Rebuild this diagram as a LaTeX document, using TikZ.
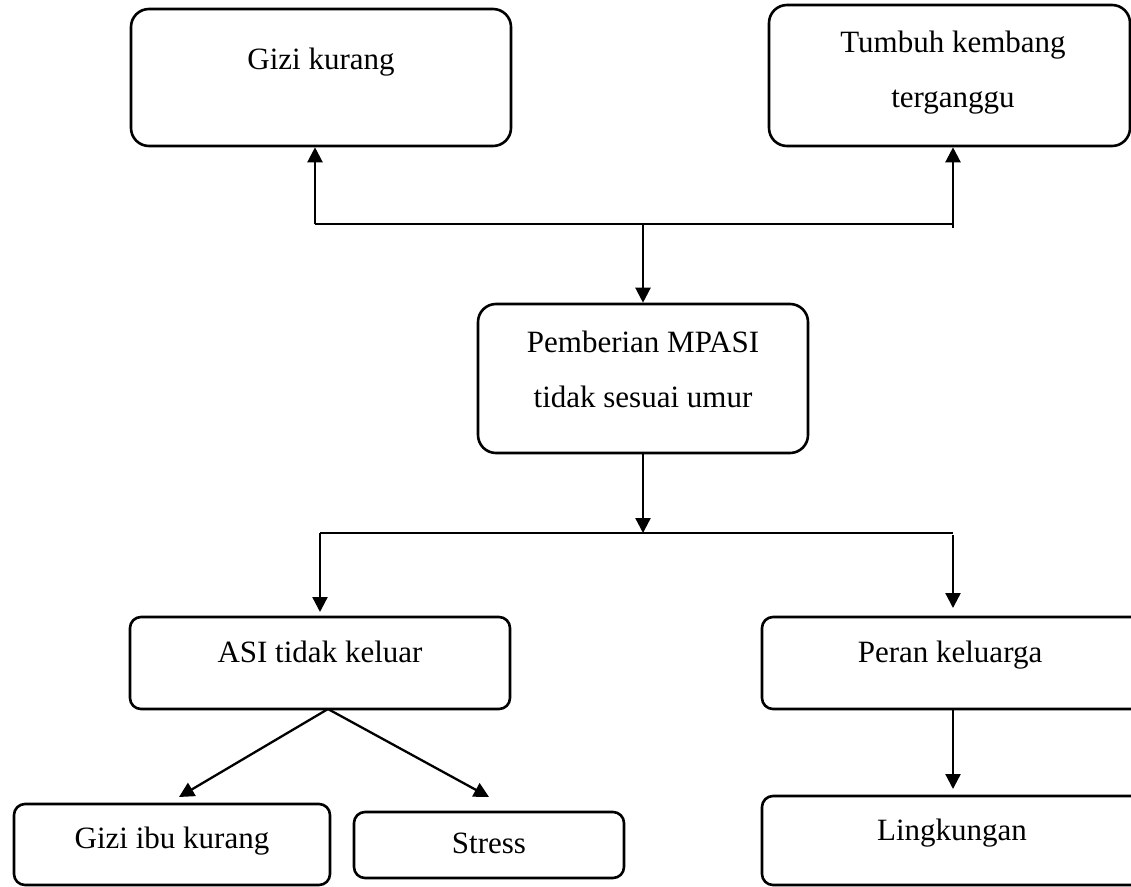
\documentclass[tikz,border=0pt]{standalone}
\usepackage{fontspec}
\setmainfont{Liberation Serif}
\usetikzlibrary{arrows.meta}
\begin{document}
\begin{tikzpicture}[x=1pt,y=-1pt,
  box/.style={draw, line width=2.6pt, rounded corners=18pt, inner sep=0pt},
  sbox/.style={box, rounded corners=11pt},
  lbl/.style={anchor=base, inner sep=0pt, font=\fontsize{31}{55}\selectfont, align=center},
  conn/.style={line width=2.3pt, -{Triangle[width=15pt,length=15pt]}},
  bus/.style={line width=1.8pt}]
\clip (0,0) rectangle (1131,886);

% boxes
\node[box, minimum width=380pt, minimum height=137pt] (gk) at (321,77.5) {};
\node[box, minimum width=361pt, minimum height=141pt] (tk) at (949.5,75.5) {};
\node[box, minimum width=330pt, minimum height=149pt] (mp) at (643,378.5) {};
\node[sbox, minimum width=380pt, minimum height=92pt] (asi) at (320,663) {};
\node[sbox, minimum width=386pt, minimum height=92pt] (peran) at (955,663) {};
\node[sbox, minimum width=316pt, minimum height=81pt] (gib) at (172,844.5) {};
\node[sbox, minimum width=270pt, minimum height=66pt] (st) at (489,845) {};
\node[sbox, minimum width=386pt, minimum height=89pt] (lk) at (955,840.5) {};

% labels (base anchor = baseline of the last line)
\node[lbl] (tgk) at (321,69) {Gizi kurang};
\node[lbl] (ttk) at (953,107) {Tumbuh kembang\\terganggu};
\node[lbl] (tmp) at (643,407) {Pemberian MPASI\\tidak sesuai umur};
\node[lbl] (tasi) at (320,662) {ASI tidak keluar};
\node[lbl] (tperan) at (950,662) {Peran keluarga};
\node[lbl] (tgib) at (172,848) {Gizi ibu kurang};
\node[lbl] (tst) at (489,853) {Stress};
\node[lbl] (tlk) at (952,840) {Lingkungan};

% junction points
\coordinate (ul) at (315,224);
\coordinate (ur) at (953,224);
\coordinate (um) at (643,224);
\coordinate (ll) at (320,533);
\coordinate (lr) at (953,533);
\coordinate (lm) at (643,533);
\coordinate (ap) at (328,709);
\coordinate (tipg) at (179,797);
\coordinate (tips) at (489,797);
\coordinate (tipa) at (320,612);
\coordinate (tipp) at (953,608);
\coordinate (tipl) at (953,789);

% upper distribution
\draw[bus] (ul) -- (ur);
\draw[conn] (ul) -- (ul |- gk.south);
\draw[conn] ([yshift=-4pt]ur) -- (ur |- tk.south);
\draw[conn] (um) -- (mp.north);

% lower distribution
\draw[conn] (mp.south) -- (lm);
\draw[bus] (ll) -- (lr);
\draw[conn] (ll) -- (tipa);
\draw[conn] ([yshift=-2pt]lr) -- (tipp);

% branches below
\draw[conn] (ap) -- (tipg);
\draw[conn] (ap) -- (tips);
\draw[conn] (tipl |- peran.south) -- (tipl);
\end{tikzpicture}
\end{document}
